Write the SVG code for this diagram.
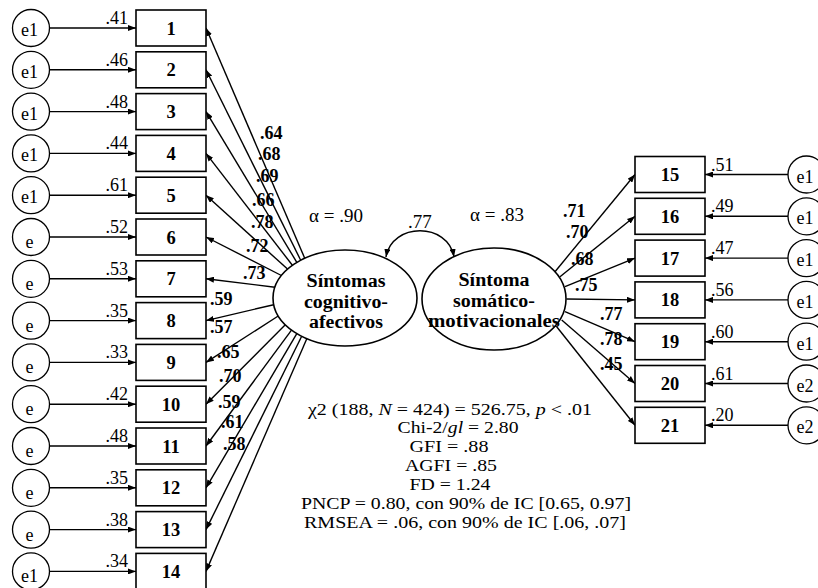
<svg xmlns="http://www.w3.org/2000/svg" width="818" height="588" viewBox="0 0 818 588" font-family="'Liberation Serif','Times New Roman',serif">
<style>
text{font-family:"Liberation Serif","Times New Roman",serif;fill:#000}
.box{fill:#fff;stroke:#000;stroke-width:1.6}
.lat{fill:#fff;stroke:#000;stroke-width:1.6}
.err{fill:#fff;stroke:#000;stroke-width:1.3}
.num{font-size:18.5px;font-weight:bold;text-anchor:middle}
.lt{font-size:18px;font-weight:bold;text-anchor:middle}
.el{font-size:18px;text-anchor:middle}
.ev{font-size:18px}
.ld{font-size:18px;font-weight:bold}
.st{font-size:17px;text-anchor:middle}
.c line,.c path{stroke:#000;stroke-width:1.4;fill:none}
</style>
<defs>
<marker id="ah" markerUnits="userSpaceOnUse" markerWidth="8" markerHeight="6" refX="8" refY="3" orient="auto-start-reverse"><path d="M0,0 L8,3 L0,6 z" fill="#000"/></marker>
</defs>
<g class="c" id="connectors">
<line x1="49.5" y1="28" x2="136" y2="28" marker-end="url(#ah)"/>
<line x1="49.5" y1="69.8" x2="136" y2="69.8" marker-end="url(#ah)"/>
<line x1="49.5" y1="111.6" x2="136" y2="111.6" marker-end="url(#ah)"/>
<line x1="49.5" y1="153.4" x2="136" y2="153.4" marker-end="url(#ah)"/>
<line x1="49.5" y1="195.2" x2="136" y2="195.2" marker-end="url(#ah)"/>
<line x1="49.5" y1="237" x2="136" y2="237" marker-end="url(#ah)"/>
<line x1="49.5" y1="278.8" x2="136" y2="278.8" marker-end="url(#ah)"/>
<line x1="49.5" y1="320.6" x2="136" y2="320.6" marker-end="url(#ah)"/>
<line x1="49.5" y1="362.4" x2="136" y2="362.4" marker-end="url(#ah)"/>
<line x1="49.5" y1="404.2" x2="136" y2="404.2" marker-end="url(#ah)"/>
<line x1="49.5" y1="446" x2="136" y2="446" marker-end="url(#ah)"/>
<line x1="49.5" y1="487.8" x2="136" y2="487.8" marker-end="url(#ah)"/>
<line x1="49.5" y1="529.6" x2="136" y2="529.6" marker-end="url(#ah)"/>
<line x1="49.5" y1="571.4" x2="136" y2="571.4" marker-end="url(#ah)"/>
<line x1="304.7" y1="258.2" x2="206" y2="28" marker-end="url(#ah)"/>
<line x1="300.7" y1="260.2" x2="206" y2="69.8" marker-end="url(#ah)"/>
<line x1="296.8" y1="262.3" x2="206" y2="111.6" marker-end="url(#ah)"/>
<line x1="292.4" y1="265.3" x2="206" y2="153.4" marker-end="url(#ah)"/>
<line x1="287.5" y1="269.1" x2="206" y2="195.2" marker-end="url(#ah)"/>
<line x1="281.4" y1="275.5" x2="206" y2="237" marker-end="url(#ah)"/>
<line x1="274.9" y1="287.2" x2="206" y2="278.8" marker-end="url(#ah)"/>
<line x1="273.7" y1="304.7" x2="206" y2="320.6" marker-end="url(#ah)"/>
<line x1="278.2" y1="316" x2="206" y2="362.4" marker-end="url(#ah)"/>
<line x1="285.3" y1="324.8" x2="206" y2="404.2" marker-end="url(#ah)"/>
<line x1="291.5" y1="330.1" x2="206" y2="446" marker-end="url(#ah)"/>
<line x1="296.8" y1="333.7" x2="206" y2="487.8" marker-end="url(#ah)"/>
<line x1="301.7" y1="336.3" x2="206" y2="529.6" marker-end="url(#ah)"/>
<line x1="306.8" y1="338.7" x2="206" y2="571.4" marker-end="url(#ah)"/>
<line x1="555" y1="271.7" x2="635" y2="174.5" marker-end="url(#ah)"/>
<line x1="560" y1="276.7" x2="635" y2="216.3" marker-end="url(#ah)"/>
<line x1="565" y1="286.7" x2="635" y2="258.1" marker-end="url(#ah)"/>
<line x1="566.5" y1="299" x2="635" y2="299.9" marker-end="url(#ah)"/>
<line x1="565" y1="311.7" x2="635" y2="341.7" marker-end="url(#ah)"/>
<line x1="561.7" y1="320" x2="635" y2="383.5" marker-end="url(#ah)"/>
<line x1="556.7" y1="326.7" x2="635" y2="425.3" marker-end="url(#ah)"/>
<line x1="788" y1="174.5" x2="705" y2="174.5" marker-end="url(#ah)"/>
<line x1="788" y1="216.3" x2="705" y2="216.3" marker-end="url(#ah)"/>
<line x1="788" y1="258.1" x2="705" y2="258.1" marker-end="url(#ah)"/>
<line x1="788" y1="299.9" x2="705" y2="299.9" marker-end="url(#ah)"/>
<line x1="788" y1="341.7" x2="705" y2="341.7" marker-end="url(#ah)"/>
<line x1="788" y1="383.5" x2="705" y2="383.5" marker-end="url(#ah)"/>
<line x1="788" y1="425.3" x2="705" y2="425.3" marker-end="url(#ah)"/>
<path d="M386,257 C392,222 448,222 454,257" marker-start="url(#ah)" marker-end="url(#ah)"/>
</g>
<g id="labels">
<g class="ev" text-anchor="end">
<text x="128" y="24">.41</text><text x="128" y="65.8">.46</text><text x="128" y="107.6">.48</text><text x="128" y="149.4">.44</text><text x="128" y="191.2">.61</text><text x="128" y="233">.52</text><text x="128" y="274.8">.53</text><text x="128" y="316.6">.35</text><text x="128" y="358.4">.33</text><text x="128" y="400.2">.42</text><text x="128" y="442">.48</text><text x="128" y="483.8">.35</text><text x="128" y="525.6">.38</text><text x="128" y="567.4">.34</text>
</g>
<g class="ev">
<text x="711" y="170.5">.51</text><text x="711" y="212.3">.49</text><text x="711" y="254.1">.47</text><text x="711" y="295.9">.56</text><text x="711" y="337.7">.60</text><text x="711" y="379.5">.61</text><text x="711" y="421.3">.20</text>
</g>
<g class="ld">
<text x="260" y="139">.64</text><text x="258" y="160">.68</text><text x="256" y="182">.69</text><text x="252" y="206">.66</text><text x="251" y="228">.78</text><text x="246" y="252">.72</text><text x="243" y="279">.73</text><text x="210" y="305">.59</text><text x="210" y="333">.57</text><text x="217" y="358">.65</text><text x="219" y="382">.70</text><text x="218" y="408">.59</text><text x="221" y="428">.61</text><text x="223" y="450">.58</text>
<text x="563" y="217">.71</text><text x="566" y="238">.70</text><text x="571" y="265">.68</text><text x="575" y="291">.75</text><text x="600" y="320">.77</text><text x="600" y="345">.78</text><text x="600" y="370">.45</text>
</g>
<text x="309" y="222" font-size="19">α = .90</text>
<text x="470" y="221" font-size="19">α = .83</text>
<text x="408" y="228" font-size="19">.77</text>
</g>
<g id="e1_1"><circle class="err" cx="31" cy="28" r="18.5"/><text class="el" x="29.5" y="36">e1</text></g>
<g id="e1_2"><circle class="err" cx="31" cy="69.8" r="18.5"/><text class="el" x="29.5" y="77.8">e1</text></g>
<g id="e1_3"><circle class="err" cx="31" cy="111.6" r="18.5"/><text class="el" x="29.5" y="119.6">e1</text></g>
<g id="e1_4"><circle class="err" cx="31" cy="153.4" r="18.5"/><text class="el" x="29.5" y="161.4">e1</text></g>
<g id="e1_5"><circle class="err" cx="31" cy="195.2" r="18.5"/><text class="el" x="29.5" y="203.2">e1</text></g>
<g id="e_6"><circle class="err" cx="31" cy="237" r="18.5"/><text class="el" x="29.5" y="248">e</text></g>
<g id="e_7"><circle class="err" cx="31" cy="278.8" r="18.5"/><text class="el" x="29.5" y="289.8">e</text></g>
<g id="e_8"><circle class="err" cx="31" cy="320.6" r="18.5"/><text class="el" x="29.5" y="331.6">e</text></g>
<g id="e_9"><circle class="err" cx="31" cy="362.4" r="18.5"/><text class="el" x="29.5" y="373.4">e</text></g>
<g id="e_10"><circle class="err" cx="31" cy="404.2" r="18.5"/><text class="el" x="29.5" y="415.2">e</text></g>
<g id="e_11"><circle class="err" cx="31" cy="446" r="18.5"/><text class="el" x="29.5" y="457">e</text></g>
<g id="e_12"><circle class="err" cx="31" cy="487.8" r="18.5"/><text class="el" x="29.5" y="498.8">e</text></g>
<g id="e_13"><circle class="err" cx="31" cy="529.6" r="18.5"/><text class="el" x="29.5" y="540.6">e</text></g>
<g id="e1_14"><circle class="err" cx="31" cy="571.4" r="18.5"/><text class="el" x="29.5" y="582.4">e1</text></g>
<g id="item1"><rect class="box" x="136" y="10" width="70" height="36"/><text class="num" x="171" y="34.5">1</text></g>
<g id="item2"><rect class="box" x="136" y="51.8" width="70" height="36"/><text class="num" x="171" y="76.3">2</text></g>
<g id="item3"><rect class="box" x="136" y="93.6" width="70" height="36"/><text class="num" x="171" y="118.1">3</text></g>
<g id="item4"><rect class="box" x="136" y="135.4" width="70" height="36"/><text class="num" x="171" y="159.9">4</text></g>
<g id="item5"><rect class="box" x="136" y="177.2" width="70" height="36"/><text class="num" x="171" y="201.7">5</text></g>
<g id="item6"><rect class="box" x="136" y="219" width="70" height="36"/><text class="num" x="171" y="243.5">6</text></g>
<g id="item7"><rect class="box" x="136" y="260.8" width="70" height="36"/><text class="num" x="171" y="285.3">7</text></g>
<g id="item8"><rect class="box" x="136" y="302.6" width="70" height="36"/><text class="num" x="171" y="327.1">8</text></g>
<g id="item9"><rect class="box" x="136" y="344.4" width="70" height="36"/><text class="num" x="171" y="368.9">9</text></g>
<g id="item10"><rect class="box" x="136" y="386.2" width="70" height="36"/><text class="num" x="171" y="410.7">10</text></g>
<g id="item11"><rect class="box" x="136" y="428" width="70" height="36"/><text class="num" x="171" y="452.5">11</text></g>
<g id="item12"><rect class="box" x="136" y="469.8" width="70" height="36"/><text class="num" x="171" y="494.3">12</text></g>
<g id="item13"><rect class="box" x="136" y="511.6" width="70" height="36"/><text class="num" x="171" y="536.1">13</text></g>
<g id="item14"><rect class="box" x="136" y="553.4" width="70" height="36"/><text class="num" x="171" y="577.9">14</text></g>
<g id="item15"><rect class="box" x="635" y="156.5" width="70" height="36"/><text class="num" x="670" y="181">15</text></g>
<g id="item16"><rect class="box" x="635" y="198.3" width="70" height="36"/><text class="num" x="670" y="222.8">16</text></g>
<g id="item17"><rect class="box" x="635" y="240.1" width="70" height="36"/><text class="num" x="670" y="264.6">17</text></g>
<g id="item18"><rect class="box" x="635" y="281.9" width="70" height="36"/><text class="num" x="670" y="306.4">18</text></g>
<g id="item19"><rect class="box" x="635" y="323.7" width="70" height="36"/><text class="num" x="670" y="348.2">19</text></g>
<g id="item20"><rect class="box" x="635" y="365.5" width="70" height="36"/><text class="num" x="670" y="390">20</text></g>
<g id="item21"><rect class="box" x="635" y="407.3" width="70" height="36"/><text class="num" x="670" y="431.8">21</text></g>
<g id="e1_15"><circle class="err" cx="806.5" cy="174.5" r="18.5"/><text class="el" x="805" y="182.5">e1</text></g>
<g id="e1_16"><circle class="err" cx="806.5" cy="216.3" r="18.5"/><text class="el" x="805" y="224.3">e1</text></g>
<g id="e1_17"><circle class="err" cx="806.5" cy="258.1" r="18.5"/><text class="el" x="805" y="266.1">e1</text></g>
<g id="e1_18"><circle class="err" cx="806.5" cy="299.9" r="18.5"/><text class="el" x="805" y="307.9">e1</text></g>
<g id="e1_19"><circle class="err" cx="806.5" cy="341.7" r="18.5"/><text class="el" x="805" y="349.7">e1</text></g>
<g id="e2_20"><circle class="err" cx="806.5" cy="383.5" r="18.5"/><text class="el" x="805" y="391.5">e2</text></g>
<g id="e2_21"><circle class="err" cx="806.5" cy="425.3" r="18.5"/><text class="el" x="805" y="433.3">e2</text></g>
<g id="cognitivo"><ellipse class="lat" cx="345" cy="298" rx="72" ry="48"/><text class="lt" x="346" y="287" textLength="79" lengthAdjust="spacingAndGlyphs">Síntomas</text><text class="lt" x="346" y="307.5" textLength="84" lengthAdjust="spacingAndGlyphs">cognitivo-</text><text class="lt" x="346" y="328" textLength="74" lengthAdjust="spacingAndGlyphs">afectivos</text></g>
<g id="somatico"><ellipse class="lat" cx="494" cy="299" rx="72" ry="51"/><text class="lt" x="494" y="286" textLength="71" lengthAdjust="spacingAndGlyphs">Síntoma</text><text class="lt" x="494" y="306.5" textLength="82" lengthAdjust="spacingAndGlyphs">somático-</text><text class="lt" x="494" y="327" textLength="132" lengthAdjust="spacingAndGlyphs">motivacionales</text></g>
<g id="fit">
<text class="st" x="450" y="414.5" textLength="284" lengthAdjust="spacingAndGlyphs">χ2 (188, <tspan font-style="italic">N</tspan> = 424) = 526.75, <tspan font-style="italic">p</tspan> &lt; .01</text>
<text class="st" x="458" y="433.4" textLength="121" lengthAdjust="spacingAndGlyphs">Chi-2/<tspan font-style="italic">gl</tspan> = 2.80</text>
<text class="st" x="449" y="452.3" textLength="79" lengthAdjust="spacingAndGlyphs">GFI = .88</text>
<text class="st" x="451" y="471.2" textLength="92" lengthAdjust="spacingAndGlyphs">AGFI = .85</text>
<text class="st" x="450" y="490.1" textLength="81" lengthAdjust="spacingAndGlyphs">FD = 1.24</text>
<text class="st" x="466" y="509" textLength="330" lengthAdjust="spacingAndGlyphs">PNCP = 0.80, con 90% de IC [0.65, 0.97]</text>
<text class="st" x="465" y="527.9" textLength="322" lengthAdjust="spacingAndGlyphs">RMSEA = .06, con 90% de IC [.06, .07]</text>
</g>
</svg>
